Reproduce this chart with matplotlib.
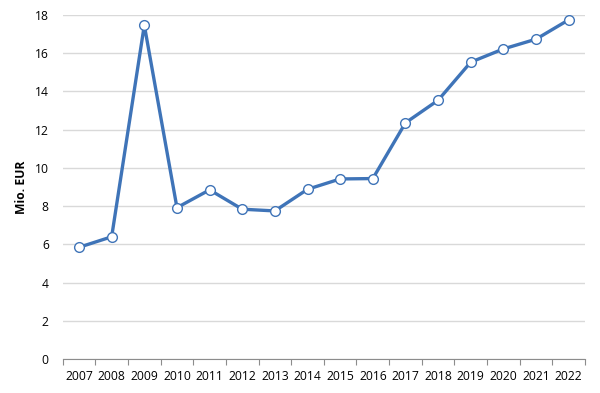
import matplotlib
matplotlib.use("Agg")
import matplotlib.pyplot as plt
import numpy as np

years = ["2007", "2008", "2009", "2010", "2011", "2012", "2013", "2014",
         "2015", "2016", "2017", "2018", "2019", "2020", "2021", "2022"]
values = [5.85, 6.4, 17.45, 7.92, 8.85, 7.84, 7.75, 8.88,
          9.42, 9.44, 12.35, 13.53, 15.52, 16.21, 16.72, 17.73]

plt.rcParams["font.family"] = ["Open Sans", "DejaVu Sans"]

fig = plt.figure(figsize=(6, 3.93), dpi=100)
ax = fig.add_axes([0.1045, 0.0857, 0.8705, 0.877])

x = np.arange(len(years))
ax.plot(x, values, color="#3f74b8", lw=2.4, marker="o", ms=7,
        mfc="white", mec="#3f74b8", mew=1.0, zorder=3)

ax.set_xlim(-0.5, len(years) - 0.5)
ax.set_ylim(0, 18)
ax.set_yticks(np.arange(0, 19, 2))
ax.set_xticks(x)
ax.set_xticklabels(years)
ax.set_xticks(np.arange(-0.5, len(years)), minor=True)
ax.tick_params(axis="x", which="major", length=0, pad=8, labelsize=8.7)
ax.tick_params(axis="x", which="minor", length=4, color="#8c8c8c", width=0.8)
ax.tick_params(axis="y", length=0, pad=10, labelsize=8.7)
ax.grid(axis="y", color="#d9d9d9", lw=1.0)
ax.set_axisbelow(True)
for s in ["top", "right", "left"]:
    ax.spines[s].set_visible(False)
ax.spines["bottom"].set_color("#8c8c8c")
ax.set_ylabel("Mio. EUR", fontsize=8.7, fontweight="bold", labelpad=5)

fig.savefig("out.png", dpi=100)
